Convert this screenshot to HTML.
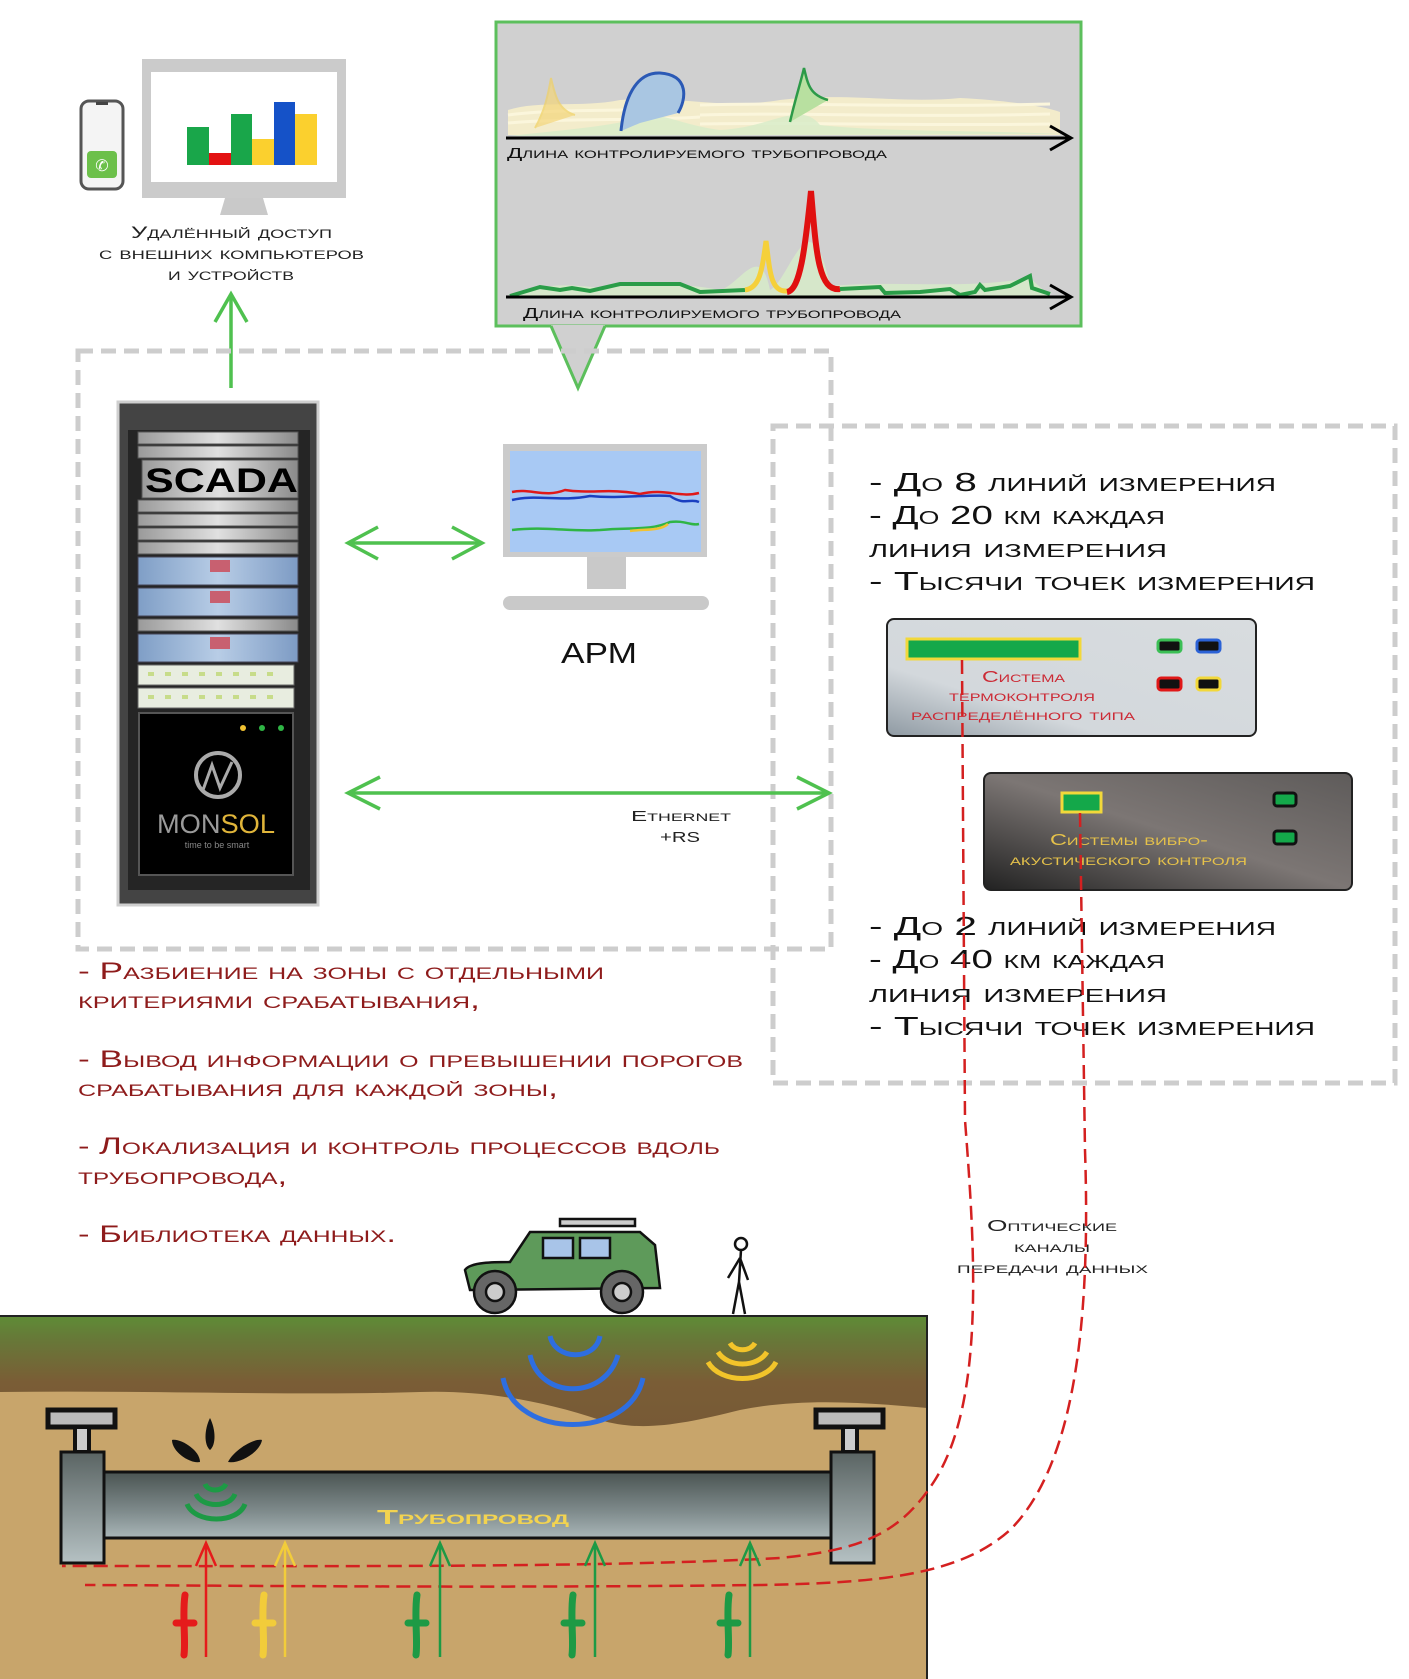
<!DOCTYPE html>
<html><head><meta charset="utf-8"><style>
html,body{margin:0;padding:0;background:#fff}
svg{display:block}
text{font-family:"Liberation Sans","DejaVu Sans",sans-serif;font-variant:small-caps}
</style></head><body>
<svg width="1409" height="1679" viewBox="0 0 1409 1679" xmlns="http://www.w3.org/2000/svg">
<defs>
<linearGradient id="gnd" x1="0" y1="0" x2="0" y2="1">
<stop offset="0" stop-color="#5e8d36"/><stop offset="0.2" stop-color="#667a38"/><stop offset="0.6" stop-color="#7a5d36"/><stop offset="1" stop-color="#775a36"/></linearGradient>
<linearGradient id="pipe" x1="0" y1="0" x2="0" y2="1">
<stop offset="0" stop-color="#4a5452"/><stop offset="0.6" stop-color="#7f8b8c"/><stop offset="1" stop-color="#a9b6b8"/></linearGradient>
<linearGradient id="cap" x1="0" y1="0" x2="0" y2="1">
<stop offset="0" stop-color="#5a6463"/><stop offset="1" stop-color="#b5c1c3"/></linearGradient>
<linearGradient id="p1" x1="0" y1="1" x2="1" y2="0">
<stop offset="0" stop-color="#8f9aa3"/><stop offset="0.3" stop-color="#d3d8dc"/><stop offset="1" stop-color="#d8dcdf"/></linearGradient>
<linearGradient id="p2" x1="0" y1="1" x2="1" y2="0">
<stop offset="0" stop-color="#222"/><stop offset="0.5" stop-color="#7c7674"/><stop offset="1" stop-color="#5e5b5a"/></linearGradient>
<linearGradient id="srv" x1="0" y1="0" x2="1" y2="0">
<stop offset="0" stop-color="#9a9a9a"/><stop offset="0.5" stop-color="#e0e0e0"/><stop offset="1" stop-color="#8a8a8a"/></linearGradient>
<linearGradient id="srvb" x1="0" y1="0" x2="1" y2="0">
<stop offset="0" stop-color="#7f9ec6"/><stop offset="0.5" stop-color="#b8cde6"/><stop offset="1" stop-color="#7d9bc4"/></linearGradient>
</defs>

<!-- top chart box -->
<rect x="496" y="22" width="585" height="304" fill="#d0d0d0" stroke="#5cbf5c" stroke-width="3"/>
<polygon points="551,325 605,325 578,388" fill="#d0d0d0"/>
<polyline points="551,326 578,388 605,326" fill="none" stroke="#5cbf5c" stroke-width="3"/>
<!-- chart 1 -->
<path d="M508,135 L508,110 C540,100 580,108 620,100 C680,95 720,110 780,100 C850,92 900,104 960,98 C1000,100 1040,105 1060,112 L1060,135 Z" fill="#f3eccb"/>
<path d="M508,115 C560,108 620,112 680,108 M508,123 C570,118 640,121 700,117 M700,105 C800,102 900,108 1050,104 M700,115 C800,112 900,118 1050,114 M700,124 C800,122 900,126 1050,124" stroke="#fbf6dc" stroke-width="3" fill="none"/>
<path d="M510,136 C560,130 600,128 640,118 C660,110 680,125 720,130 C770,128 800,100 820,125 C880,132 980,130 1060,134 Z" fill="#d7ecc8" opacity="0.8"/>
<path d="M535,128 C545,110 548,95 551,78 C555,95 558,110 575,115" fill="#f4d67a" opacity="0.7" stroke="#f1d162" stroke-width="2"/>
<path d="M621,131 C624,100 635,72 660,73 C690,75 686,100 678,113 L640,123 Z" fill="#a9c6e2"/>
<path d="M621,131 C624,100 635,72 660,73 C690,75 686,100 678,113" fill="none" stroke="#2b59b5" stroke-width="3"/>
<path d="M790,122 C795,100 800,85 804,68 C808,85 810,95 828,100" fill="#b8e0a0" stroke="#2c9a48" stroke-width="2.5"/>
<line x1="506" y1="138" x2="1068" y2="138" stroke="#000" stroke-width="3"/>
<polyline points="1050,126 1071,138 1050,150" fill="none" stroke="#000" stroke-width="3"/>
<text x="507" y="158" font-size="15" textLength="380" lengthAdjust="spacingAndGlyphs" fill="#111">Длина контролируемого трубопровода</text>
<!-- chart 2 -->
<path d="M510,296 C540,285 560,283 600,288 C640,284 680,282 720,290 C740,285 760,240 770,290 C790,280 810,190 830,286 C900,280 960,290 1030,278 L1050,296 Z" fill="#d7ecc8" opacity="0.8"/>
<path d="M510,296 L540,287 L560,290 L572,288 L590,291 L620,284 L680,284 L700,292 L745,290" fill="none" stroke="#2a9d48" stroke-width="4"/>
<path d="M745,290 C760,288 762,270 766,241 C770,270 770,292 787,291" fill="none" stroke="#f5d03a" stroke-width="5"/>
<path d="M787,292 C800,290 805,250 811,191 C816,250 818,292 840,289" fill="none" stroke="#e01010" stroke-width="6"/>
<path d="M840,289 L880,287 L885,293 L920,292 L950,289 L960,295 L975,292 L980,285 L985,290 L1010,286 L1030,276 L1032,288 L1050,294" fill="none" stroke="#2a9d48" stroke-width="4"/>
<line x1="506" y1="297" x2="1068" y2="297" stroke="#000" stroke-width="3"/>
<polyline points="1050,285 1071,297 1050,309" fill="none" stroke="#000" stroke-width="3"/>
<text x="523" y="318" font-size="15" textLength="378" lengthAdjust="spacingAndGlyphs" fill="#111">Длина контролируемого трубопровода</text>

<!-- remote access -->
<rect x="81" y="101" width="42" height="88" rx="8" fill="#f4f4f4" stroke="#555" stroke-width="3"/>
<rect x="96" y="102" width="12" height="3" fill="#444"/>
<rect x="87" y="151" width="30" height="27" rx="4" fill="#6cc04a"/>
<text x="102" y="171" font-size="16" fill="#fff" text-anchor="middle">✆</text>
<rect x="142" y="59" width="204" height="139" fill="#cbcbcb"/>
<rect x="151" y="72" width="186" height="110" fill="#fff"/>
<polygon points="225,198 263,198 268,215 220,215" fill="#c9c9c9"/>
<rect x="187" y="127" width="22" height="38" fill="#19a64a"/>
<rect x="209" y="153" width="22" height="12" fill="#e31212"/>
<rect x="231" y="114" width="21" height="51" fill="#19a64a"/>
<rect x="252" y="139" width="22" height="26" fill="#fbd02e"/>
<rect x="274" y="102" width="21" height="63" fill="#1552c8"/>
<rect x="295" y="114" width="22" height="51" fill="#fbd02e"/>
<text x="131" y="238" font-size="17" textLength="201" lengthAdjust="spacingAndGlyphs" fill="#222">Удалённый доступ</text>
<text x="99" y="259" font-size="17" textLength="265" lengthAdjust="spacingAndGlyphs" fill="#222">с внешних компьютеров</text>
<text x="168" y="280" font-size="17" textLength="126" lengthAdjust="spacingAndGlyphs" fill="#222">и устройств</text>
<line x1="231" y1="388" x2="231" y2="294" stroke="#4fc14f" stroke-width="3.5"/>
<polyline points="215,322 231,294 247,322" fill="none" stroke="#4fc14f" stroke-width="3.5"/>

<!-- dashed boxes -->
<rect x="78" y="351" width="753" height="598" fill="none" stroke="#cdcdcd" stroke-width="5" stroke-dasharray="15 8"/>
<rect x="773" y="426" width="622" height="657" fill="none" stroke="#cdcdcd" stroke-width="5" stroke-dasharray="15 8"/>

<!-- rack -->
<rect x="118" y="402" width="200" height="503" fill="#444" stroke="#cfcfcf" stroke-width="3"/>
<rect x="128" y="430" width="182" height="460" fill="#252525"/>
<g fill="url(#srv)" stroke="#555" stroke-width="1">
<rect x="138" y="432" width="160" height="12"/><rect x="138" y="446" width="160" height="12"/>
<rect x="142" y="460" width="156" height="38"/>
<rect x="138" y="500" width="160" height="12"/><rect x="138" y="514" width="160" height="12"/><rect x="138" y="528" width="160" height="12"/><rect x="138" y="542" width="160" height="12"/>
<rect x="138" y="619" width="160" height="12"/>
</g>
<g fill="url(#srvb)" stroke="#445" stroke-width="1">
<rect x="138" y="557" width="160" height="28"/><rect x="138" y="588" width="160" height="28"/><rect x="138" y="634" width="160" height="28"/>
</g>
<g fill="#c86070"><rect x="210" y="560" width="20" height="12"/><rect x="210" y="591" width="20" height="12"/><rect x="210" y="637" width="20" height="12"/></g>
<g fill="#e8ede0" stroke="#666"><rect x="138" y="665" width="156" height="20"/><rect x="138" y="688" width="156" height="20"/></g>
<g fill="#c7dc8a"><rect x="148" y="672" width="6" height="4"/><rect x="165" y="672" width="6" height="4"/><rect x="182" y="672" width="6" height="4"/><rect x="199" y="672" width="6" height="4"/><rect x="216" y="672" width="6" height="4"/><rect x="233" y="672" width="6" height="4"/><rect x="250" y="672" width="6" height="4"/><rect x="267" y="672" width="6" height="4"/>
<rect x="148" y="695" width="6" height="4"/><rect x="165" y="695" width="6" height="4"/><rect x="182" y="695" width="6" height="4"/><rect x="199" y="695" width="6" height="4"/><rect x="216" y="695" width="6" height="4"/><rect x="233" y="695" width="6" height="4"/><rect x="250" y="695" width="6" height="4"/><rect x="267" y="695" width="6" height="4"/></g>
<text x="145" y="492" font-size="34" font-weight="bold" textLength="153" lengthAdjust="spacingAndGlyphs" fill="#000" style="font-variant:normal">SCADA</text>
<rect x="139" y="713" width="154" height="162" fill="#000" stroke="#555" stroke-width="2"/>
<circle cx="243" cy="728" r="3" fill="#f1c232"/><circle cx="262" cy="728" r="3" fill="#2fb545"/><circle cx="281" cy="728" r="3" fill="#2fb545"/>
<circle cx="218" cy="775" r="22" fill="none" stroke="#aaa" stroke-width="4"/>
<polyline points="203,790 212,765 220,788 232,762" fill="none" stroke="#aaa" stroke-width="3"/>
<text x="157" y="833" font-size="27" style="font-variant:normal" fill="#9a9a9a" textLength="118" lengthAdjust="spacingAndGlyphs">MON<tspan fill="#e0b53a">SOL</tspan></text>
<text x="217" y="848" font-size="9" text-anchor="middle" style="font-variant:normal" fill="#888">time to be smart</text>

<!-- arrows in box -->
<g stroke="#4fc14f" stroke-width="3.5" fill="none">
<line x1="348" y1="543" x2="482" y2="543"/><polyline points="378,527 348,543 378,559"/><polyline points="452,527 482,543 452,559"/>
<line x1="348" y1="793" x2="829" y2="793"/><polyline points="380,777 348,793 380,809"/><polyline points="797,777 829,793 797,809"/>
</g>
<text x="631" y="821" font-size="15" textLength="100" lengthAdjust="spacingAndGlyphs" fill="#222">Ethernet</text>
<text x="660" y="842" font-size="15" textLength="40" lengthAdjust="spacingAndGlyphs" fill="#222" style="font-variant:normal">+RS</text>

<!-- ARM monitor -->
<rect x="503" y="444" width="204" height="113" fill="#cbcbcb"/>
<rect x="510" y="451" width="191" height="101" fill="#a8c9f4"/>
<path d="M512,492 C530,488 545,498 565,490 C590,494 610,488 640,494 C665,488 680,498 699,493" fill="none" stroke="#e01818" stroke-width="2.5"/>
<path d="M512,500 C535,494 560,502 590,496 C620,499 650,494 670,496 C685,506 690,498 699,502" fill="none" stroke="#1a3fc0" stroke-width="2.5"/>
<path d="M512,530 C545,526 570,532 600,530 C630,527 650,531 670,522 C685,520 690,526 699,524" fill="none" stroke="#2fb545" stroke-width="2.5"/>
<path d="M630,531 C645,529 660,531 668,524" fill="none" stroke="#f1c232" stroke-width="2.5"/>
<rect x="587" y="557" width="39" height="32" fill="#c9c9c9"/>
<rect x="503" y="596" width="206" height="14" rx="7" fill="#c9c9c9"/>
<text x="561" y="663" font-size="29" textLength="76" lengthAdjust="spacingAndGlyphs" fill="#111" style="font-variant:normal">АРМ</text>

<!-- right text -->
<g font-size="26" fill="#111">
<text x="869" y="491" textLength="407" lengthAdjust="spacingAndGlyphs">- До 8 линий измерения</text>
<text x="869" y="524" textLength="296" lengthAdjust="spacingAndGlyphs">- До 20 км каждая</text>
<text x="869" y="557" textLength="298" lengthAdjust="spacingAndGlyphs">линия измерения</text>
<text x="869" y="590" textLength="446" lengthAdjust="spacingAndGlyphs">- Тысячи точек измерения</text>
<text x="869" y="935" textLength="407" lengthAdjust="spacingAndGlyphs">- До 2 линий измерения</text>
<text x="869" y="968" textLength="296" lengthAdjust="spacingAndGlyphs">- До 40 км каждая</text>
<text x="869" y="1002" textLength="298" lengthAdjust="spacingAndGlyphs">линия измерения</text>
<text x="869" y="1035" textLength="446" lengthAdjust="spacingAndGlyphs">- Тысячи точек измерения</text>
</g>

<!-- panel 1 -->
<rect x="887" y="619" width="369" height="117" rx="7" fill="url(#p1)" stroke="#222" stroke-width="2"/>
<rect x="907" y="639" width="173" height="20" fill="#14a84a" stroke="#f2d83a" stroke-width="3"/>
<rect x="1158" y="640" width="23" height="12" rx="3" fill="#111" stroke="#3bbf55" stroke-width="3"/>
<rect x="1197" y="640" width="23" height="12" rx="3" fill="#111" stroke="#2b62d6" stroke-width="3"/>
<rect x="1158" y="678" width="23" height="12" rx="3" fill="#111" stroke="#e01818" stroke-width="3"/>
<rect x="1197" y="678" width="23" height="12" rx="3" fill="#111" stroke="#f2d83a" stroke-width="3"/>
<g font-size="16" fill="#cc2a35">
<text x="982" y="682" textLength="83" lengthAdjust="spacingAndGlyphs">Система</text>
<text x="949" y="701" textLength="146" lengthAdjust="spacingAndGlyphs">термоконтроля</text>
<text x="911" y="720" textLength="224" lengthAdjust="spacingAndGlyphs">распределённого типа</text>
</g>
<!-- panel 2 -->
<rect x="984" y="773" width="368" height="117" rx="7" fill="url(#p2)" stroke="#222" stroke-width="2"/>
<rect x="1062" y="793" width="39" height="19" fill="#14a84a" stroke="#f2d83a" stroke-width="3"/>
<rect x="1274" y="793" width="22" height="13" rx="3" fill="#14a84a" stroke="#111" stroke-width="3"/>
<rect x="1274" y="831" width="22" height="13" rx="3" fill="#14a84a" stroke="#111" stroke-width="3"/>
<g font-size="16" fill="#e6c24a">
<text x="1050" y="845" textLength="158" lengthAdjust="spacingAndGlyphs">Системы вибро-</text>
<text x="1010" y="865" textLength="237" lengthAdjust="spacingAndGlyphs">акустического контроля</text>
</g>

<!-- left red text -->
<g font-size="24" fill="#8e1b1b">
<text x="78" y="979" textLength="526" lengthAdjust="spacingAndGlyphs">- Разбиение на зоны с отдельными</text>
<text x="78" y="1008" textLength="402" lengthAdjust="spacingAndGlyphs">критериями срабатывания,</text>
<text x="78" y="1067" textLength="665" lengthAdjust="spacingAndGlyphs">- Вывод информации о превышении порогов</text>
<text x="78" y="1096" textLength="480" lengthAdjust="spacingAndGlyphs">срабатывания для каждой зоны,</text>
<text x="78" y="1154" textLength="642" lengthAdjust="spacingAndGlyphs">- Локализация и контроль процессов вдоль</text>
<text x="78" y="1184" textLength="209" lengthAdjust="spacingAndGlyphs">трубопровода,</text>
<text x="78" y="1242" textLength="318" lengthAdjust="spacingAndGlyphs">- Библиотека данных.</text>
</g>
<g font-size="16" fill="#222">
<text x="987" y="1231" textLength="130" lengthAdjust="spacingAndGlyphs">Оптические</text>
<text x="1014" y="1252" textLength="76" lengthAdjust="spacingAndGlyphs">каналы</text>
<text x="957" y="1273" textLength="191" lengthAdjust="spacingAndGlyphs">передачи данных</text>
</g>

<!-- ground -->
<rect x="0" y="1315" width="927" height="364" fill="#c8a56b"/>
<path d="M0,1315 L927,1315 L927,1408 C860,1402 800,1398 740,1410 C680,1425 640,1432 600,1420 C540,1400 480,1390 420,1392 C300,1396 150,1390 0,1392 Z" fill="url(#gnd)"/>
<line x1="0" y1="1316" x2="927" y2="1316" stroke="#222" stroke-width="2"/>
<line x1="927" y1="1315" x2="927" y2="1679" stroke="#222" stroke-width="2"/>
<!-- waves -->
<g fill="none" stroke="#2e6ee0" stroke-width="5">
<path d="M550,1336 C555,1360 595,1362 600,1336"/>
<path d="M530,1355 C540,1400 605,1400 618,1355"/>
<path d="M503,1378 C515,1440 630,1440 643,1378"/>
</g>
<g fill="none" stroke="#f2c42a" stroke-width="5">
<path d="M730,1343 C735,1352 750,1352 755,1343"/>
<path d="M718,1352 C728,1368 757,1368 767,1352"/>
<path d="M708,1362 C720,1384 765,1384 776,1362"/>
</g>
<!-- valves -->
<rect x="48" y="1410" width="67" height="17" fill="#bbb" stroke="#111" stroke-width="5"/>
<rect x="75" y="1427" width="14" height="25" fill="#ccc" stroke="#111" stroke-width="4"/>
<rect x="816" y="1410" width="67" height="17" fill="#bbb" stroke="#111" stroke-width="5"/>
<rect x="843" y="1427" width="14" height="25" fill="#ccc" stroke="#111" stroke-width="4"/>
<!-- pipe -->
<rect x="104" y="1472" width="727" height="66" fill="url(#pipe)" stroke="#111" stroke-width="3"/>
<rect x="61" y="1452" width="43" height="111" fill="url(#cap)" stroke="#111" stroke-width="3"/>
<rect x="831" y="1452" width="43" height="111" fill="url(#cap)" stroke="#111" stroke-width="3"/>
<text x="377" y="1524" font-size="20" font-weight="bold" textLength="192" lengthAdjust="spacingAndGlyphs" fill="#f2d350">Трубопровод</text>
<!-- oil -->
<g fill="#111">
<path d="M210,1418 C204,1430 204,1445 210,1450 C216,1445 216,1430 210,1418 Z"/>
<path d="M172,1440 C180,1438 200,1450 200,1462 C190,1464 172,1452 172,1440 Z"/>
<path d="M262,1440 C254,1438 234,1450 228,1462 C240,1464 260,1452 262,1440 Z"/>
</g>
<g fill="none" stroke="#1d9a45" stroke-width="5">
<path d="M205,1484 C208,1492 222,1492 226,1484"/>
<path d="M196,1494 C202,1508 230,1508 235,1494"/>
<path d="M187,1504 C195,1524 238,1524 245,1504"/>
</g>
<!-- fiber lines -->
<g fill="none" stroke="#d42020" stroke-width="2.5" stroke-dasharray="14 7">
<path d="M962,660 L965,1120 C975,1250 985,1400 935,1480 C900,1535 860,1550 780,1558 C600,1568 300,1566 62,1566"/>
<path d="M1080,813 L1085,1150 C1090,1300 1080,1460 1010,1530 C960,1575 880,1583 760,1585 C500,1588 300,1586 85,1585"/>
</g>
<!-- arrows -->
<g stroke-width="2.5" fill="none">
<path d="M206,1657 L206,1543 M196,1566 L206,1543 L216,1566" stroke="#e51b1b"/>
<path d="M285,1657 L285,1543 M275,1566 L285,1543 L295,1566" stroke="#f2cc3a"/>
<path d="M440,1657 L440,1543 M430,1566 L440,1543 L450,1566" stroke="#1d9a45"/>
<path d="M595,1657 L595,1543 M585,1566 L595,1543 L605,1566" stroke="#1d9a45"/>
<path d="M750,1657 L750,1543 M740,1566 L750,1543 L760,1566" stroke="#1d9a45"/>
</g>
<g stroke-width="7" fill="none" stroke-linecap="round">
<path d="M185,1595 C182,1615 186,1640 184,1655 M176,1623 L194,1623" stroke="#e51b1b"/>
<path d="M264,1595 C261,1615 265,1640 263,1655 M255,1623 L273,1623" stroke="#f2cc3a"/>
<path d="M417,1595 C414,1615 418,1640 416,1655 M408,1623 L426,1623" stroke="#1d9a45"/>
<path d="M573,1595 C570,1615 574,1640 572,1655 M564,1623 L582,1623" stroke="#1d9a45"/>
<path d="M729,1595 C726,1615 730,1640 728,1655 M720,1623 L738,1623" stroke="#1d9a45"/>
</g>
<!-- car -->
<g stroke="#111" stroke-width="2.5">
<rect x="560" y="1219" width="75" height="7" fill="#ccc"/>
<path d="M530,1232 L640,1232 L655,1245 L660,1288 L470,1290 L465,1270 C470,1262 495,1262 510,1262 Z" fill="#5e9a5a"/>
<rect x="543" y="1238" width="30" height="20" fill="#a8c4e8"/>
<rect x="580" y="1238" width="30" height="20" fill="#a8c4e8"/>
<circle cx="495" cy="1292" r="21" fill="#666"/><circle cx="495" cy="1292" r="9" fill="#ccc"/>
<circle cx="622" cy="1292" r="21" fill="#666"/><circle cx="622" cy="1292" r="9" fill="#ccc"/>
</g>
<!-- person -->
<g stroke="#111" stroke-width="2.5" fill="none">
<circle cx="741" cy="1244" r="6" fill="#fff"/>
<path d="M741,1250 L739,1282 L733,1314 M739,1282 L745,1314 M740,1258 L728,1278 M740,1258 L748,1280"/>
</g>
</svg>
</body></html>
